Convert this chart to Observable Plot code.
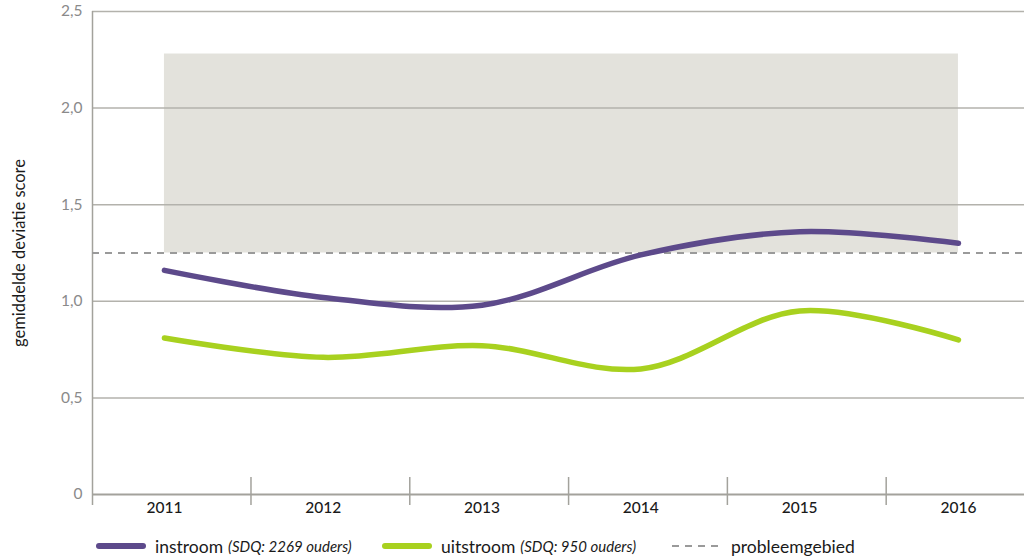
<!DOCTYPE html>
<html>
<head>
<meta charset="utf-8">
<script src="https://cdn.jsdelivr.net/npm/d3@7"></script>
<script src="https://cdn.jsdelivr.net/npm/@observablehq/plot@0.6"></script>
<style>
  html, body { margin: 0; padding: 0; background: #fff; }
  body { width: 1024px; height: 560px; position: relative; overflow: hidden; font-family: Lato, "Open Sans", sans-serif; }
  #chart { position: absolute; left: 0; top: 0; }
  .legend { position: absolute; top: 534px; left: 0; width: 1024px; height: 24px; font-size: 17.5px; color: #1a1a1a; }
  .item { position: absolute; top: 0; display: flex; align-items: center; height: 24px; white-space: nowrap; }
  .item svg { margin-right: 9px; }
  .item i { margin-left: 5px; font-size: 15px; }
</style>
</head>
<body>
<div id="chart"></div>
<div class="legend" id="legend"></div>
<script>
// ---- data ----
const years = [2011, 2012, 2013, 2014, 2015, 2016];
const instroom = [1.16, 1.02, 0.98, 1.24, 1.36, 1.30];
const uitstroom = [0.81, 0.71, 0.77, 0.65, 0.95, 0.80];
const probleemgrens = 1.25;
const probleemTop = 2.28;
const yTicks = [0, 0.5, 1.0, 1.5, 2.0, 2.5];
const yTickLabels = ["0", "0,5", "1,0", "1,5", "2,0", "2,5"];
const yLabel = "gemiddelde deviatie score";
const seriesNames = ["instroom", "uitstroom"];
const seriesNotes = ["(SDQ: 2269 ouders)", "(SDQ: 950 ouders)"];
const refName = "probleemgebied";

const purple = "#5d4a8b";
const green = "#a8d11f";
const grid = "#b3b2ac";

const xMin = 2010.547, xMax = 2016.416;
const yBelow = -0.057, sepTop = 0.088;

const rows = [];
years.forEach((yr, i) => {
  rows.push({year: yr, value: instroom[i], serie: seriesNames[0]});
  rows.push({year: yr, value: uitstroom[i], serie: seriesNames[1]});
});
const separators = years.slice(0, -1).map(y => y + 0.545);

const chart = Plot.plot({
  width: 1024,
  height: 522,
  marginLeft: 92,
  marginRight: 0,
  marginTop: 11,
  marginBottom: 28,
  style: {fontFamily: "Lato, 'Open Sans', sans-serif", background: "transparent"},
  x: {domain: [xMin, xMax]},
  y: {domain: [0, 2.5]},
  marks: [
    Plot.rect([{x1: years[0], x2: years[years.length - 1], y1: probleemgrens, y2: probleemTop}],
      {x1: "x1", x2: "x2", y1: "y1", y2: "y2", fill: "#e3e2dc"}),
    Plot.ruleY(yTicks.slice(1), {x1: xMin, x2: xMax, stroke: grid, strokeWidth: 1.5}),
    Plot.ruleY([0], {x1: xMin, x2: xMax, stroke: "#a3a29c", strokeWidth: 2}),
    Plot.ruleX([xMin], {y1: yBelow, y2: 2.5, stroke: "#a3a29c", strokeWidth: 1.5}),
    Plot.ruleX(separators, {y1: yBelow, y2: sepTop, stroke: "#a3a29c", strokeWidth: 1.5}),
    Plot.ruleY([probleemgrens], {x1: xMin, x2: xMax, stroke: "#9a9a9a", strokeWidth: 2, strokeDasharray: "7,6"}),
    Plot.line(rows, {x: "year", y: "value", z: "serie", stroke: d => d.serie === seriesNames[0] ? purple : green,
      strokeWidth: 5.5, curve: "catmull-rom", strokeLinecap: "round", strokeLinejoin: "round"}),
    Plot.axisY({ticks: yTicks, tickFormat: d => yTickLabels[yTicks.indexOf(d)], tickSize: 0, tickPadding: 10,
      fontSize: 15.5, color: "#8a8a8a", label: null}),
    Plot.axisX({ticks: years, tickFormat: d => String(d), tickSize: 0, tickPadding: 7,
      fontSize: 15.5, fontWeight: 500, color: "#1a1a1a", label: null}),
    Plot.text([yLabel], {text: d => d, frameAnchor: "left", textAnchor: "middle", dx: -73, rotate: -90,
      fontSize: 16.5, fill: "#1a1a1a"})
  ]
});
document.getElementById("chart").appendChild(chart);

// ---- legend ----
const legend = document.getElementById("legend");
const items = [
  {left: 96, name: seriesNames[0], note: seriesNotes[0], color: purple, dash: null, w: 6},
  {left: 382, name: seriesNames[1], note: seriesNotes[1], color: green, dash: null, w: 6},
  {left: 672, name: refName, note: null, color: "#9a9a9a", dash: "7,6", w: 2}
];
items.forEach(it => {
  const div = document.createElement("div");
  div.className = "item";
  div.style.left = it.left + "px";
  const sw = `<svg width="50" height="10"><line x1="${it.dash ? 0 : 3}" x2="${it.dash ? 48 : 47}" y1="5" y2="5" stroke="${it.color}" stroke-width="${it.w}" ${it.dash ? `stroke-dasharray="${it.dash}"` : 'stroke-linecap="round"'}/></svg>`;
  div.innerHTML = sw + `<span>${it.name}</span>` + (it.note ? `<i>${it.note}</i>` : "");
  legend.appendChild(div);
});
</script>
</body>
</html>
